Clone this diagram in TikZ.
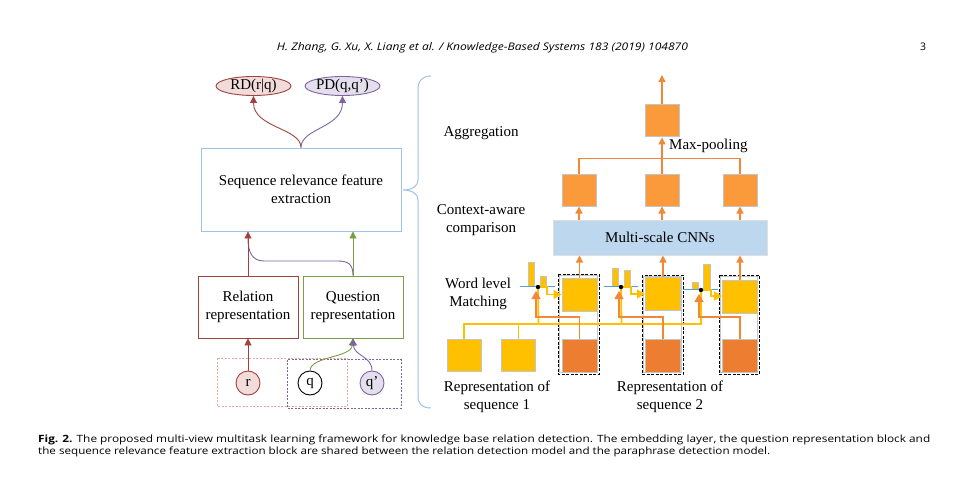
\documentclass[tikz,border=0pt]{standalone}
\usepackage{graphicx}
\usepackage{fontspec}
\setmainfont{Liberation Serif}
\newfontfamily\capfont{Open Sans}
\usetikzlibrary{arrows.meta,shapes.geometric}
\definecolor{dred}{HTML}{A0423D}
\definecolor{lred}{HTML}{F2DCDB}
\definecolor{purp}{HTML}{8064A2}
\definecolor{lpurp}{HTML}{E4DFEC}
\definecolor{grn}{HTML}{77A043}
\definecolor{lblue}{HTML}{9DC3E6}
\definecolor{cnnblue}{HTML}{BDD7EE}
\definecolor{orsq}{HTML}{FB9A3A}
\definecolor{orarr}{HTML}{F08838}
\definecolor{dorsq}{HTML}{ED7D31}
\definecolor{ylw}{HTML}{FFC000}
\definecolor{bline}{HTML}{5B9BD5}
\definecolor{sqgray}{HTML}{C4C4C4}
\definecolor{pinkdash}{HTML}{E8A9A4}
\begin{document}
\begin{tikzpicture}[x=1pt,y=-1pt,
  lab/.style={font=\fontsize{15}{18}\selectfont, align=center, inner sep=0pt},
  tri/.style={-{Triangle[width=7pt,length=7pt]}},
  bigtri/.style={-{Triangle[width=9pt,length=8pt]}},
  lbox/.style={draw, line width=0.9pt, minimum width=100pt, minimum height=62pt, inner sep=0pt, lab},
  ell/.style={ellipse, draw, line width=0.9pt, inner sep=0pt, text height=10pt, text depth=3pt, minimum width=75pt, minimum height=19pt, lab},
  circ/.style={circle, draw, line width=0.9pt, inner sep=0pt, minimum size=24pt, lab},
  sq/.style={draw=sqgray, line width=1pt, inner sep=0pt, minimum width=34pt, minimum height=32pt},
  osq/.style={sq, fill=orsq},
  ysq/.style={sq, fill=ylw},
  dsq/.style={sq, fill=dorsq},
  oline/.style={orarr, line width=1.4pt},
  yline/.style={ylw, line width=1.8pt},
  bar/.style={draw=sqgray, fill=ylw, line width=0.8pt},
  blue line/.style={bline, line width=1.4pt},
  dbox/.style={draw=black, line width=0.9pt, dash pattern=on 3pt off 1.5pt},
  dboxin/.style={draw=gray!45, line width=0.9pt},
  hdr/.style={font=\capfont\fontsize{10.5}{12}\selectfont\itshape, inner sep=0pt},
  captext/.style={font=\capfont\fontsize{10}{12}\selectfont, inner sep=0pt}
]
\useasboundingbox (0,0) rectangle (958,484);

% ---------- header ----------
\node[hdr, anchor=base] (hd) at (482.5,50.5) {\resizebox{411pt}{\height}{H. Zhang, G. Xu, X. Liang et al. / Knowledge-Based Systems 183 (2019) 104870}};
\node[hdr, font=\capfont\fontsize{10.5}{12}\selectfont, anchor=base] (pg) at (923,50.5) {3};

% ---------- left part ----------
\node[ell, draw=dred, fill=lred] (rd) at (253.5,86) {RD(r|q)};
\node[ell, draw=purp, fill=lpurp] (pd) at (342.5,86) {PD(q,q')};
\node[lbox, draw=lblue, minimum width=200pt, minimum height=83pt] (seq) at (301,189.5) {Sequence relevance feature\\extraction};
\node[lbox, draw=dred] (rel) at (248,307) {Relation\\representation};
\node[lbox, draw=grn] (que) at (353,307) {Question\\representation};

\draw[pinkdash, line width=0.9pt, dash pattern=on 2pt off 1.5pt] (217,358) rectangle (347,406);
\draw[purp, line width=0.9pt, dash pattern=on 2pt off 1.5pt] (287,359.5) rectangle (401,408);

\node[circ, draw=dred, fill=lred] (r) at (248,383) {r};
\node[circ, draw=black, fill=white] (q) at (310,383) {q};
\node[circ, draw=purp, fill=lpurp] (qp) at (372,383) {q'};

% connectors left
\draw[dred, line width=0.9pt, tri] (seq.north) .. controls (301,128) and (253.5,128) .. (rd.south);
\draw[purp, line width=0.9pt, tri] (seq.north) .. controls (301,128) and (342.5,128) .. (pd.south);
\draw[purp, line width=0.9pt] (que.north) .. controls (353,265) and (349,261) .. (338,261) -- (264,261) .. controls (252,261) and (248,252) .. (248,238);
\draw[dred, line width=0.9pt, tri] (rel.north) -- (rel.north |- seq.south);
\draw[grn, line width=0.9pt, tri] (que.north) -- (que.north |- seq.south);
\draw[dred, line width=0.9pt, tri] (r.north) -- (rel.south);
\draw[grn, line width=0.9pt, tri] (q.north) .. controls (311,356) and (351,358) .. (que.south);
\draw[purp, line width=0.9pt, tri] (qp.north) .. controls (372,356) and (354,356) .. (que.south);

% brace
\draw[lblue, line width=1pt] (431,76) .. controls (422,76) and (418,81) .. (418,90) -- (418,180) .. controls (418,186) and (412,190) .. (403,190) .. controls (412,190) and (418,194) .. (418,200) -- (418,396) .. controls (418,404) and (422,408) .. (431,408);

% ---------- right part labels ----------
\node[lab] (agg) at (481,133) {Aggregation};
\node[lab] (ctx) at (481,220) {Context-aware\\comparison};
\node[lab] (wlm) at (478,294) {Word level\\Matching};
\node[lab, anchor=west] (mp) at (669,146) {Max-pooling};
\node[lab] (rs1) at (497,397) {Representation of\\sequence 1};
\node[lab] (rs2) at (670,397) {Representation of\\sequence 2};

% aggregation
\coordinate (outtop) at (662,75);
\node[osq] (top) at (662,121) {};
\node[osq] (m1) at (579,190) {};
\node[osq] (m2) at (662,190) {};
\node[osq] (m3) at (740,190) {};
\node[draw=gray!25, line width=1pt, fill=cnnblue, minimum width=214pt, minimum height=35pt, lab] (cnn) at (660,237.5) {Multi-scale CNNs};

\draw[oline, tri] (top.north) -- (outtop);
\draw[oline] (m1.north) -- ++(0,-15) -| (m3.north);
\draw[oline, tri] (m2.north) -- (top.south);
\draw[oline, tri] (m1.south |- cnn.north) -- (m1.south);
\draw[oline, tri] (m2.south |- cnn.north) -- (m2.south);
\draw[oline, tri] (m3.south |- cnn.north) -- (m3.south);

% dashed column boxes
\draw[dboxin] (559.5,275.5) rectangle (597.5,372.5);
\draw[dbox] (558,274) rectangle (599,374);
\draw[dboxin] (643.5,276.5) rectangle (681.5,372.5);
\draw[dbox] (642,275) rectangle (683,374);
\draw[dboxin] (720.5,276.5) rectangle (757.5,372.5);
\draw[dbox] (719,275) rectangle (759,374);

% squares
\node[ysq, minimum width=35pt, minimum height=33pt] (u1) at (579.5,294.5) {};
\node[ysq, minimum width=35pt, minimum height=33pt] (u2) at (663,294) {};
\node[ysq, minimum width=35pt, minimum height=33pt] (u3) at (740,296.5) {};
\node[dsq, minimum width=35pt, minimum height=33pt] (l1) at (579.5,355.5) {};
\node[dsq, minimum width=35pt, minimum height=33pt] (l2) at (663,355.5) {};
\node[dsq, minimum width=35pt, minimum height=33pt] (l3) at (740,355.5) {};
\node[ysq] (s1) at (464,355) {};
\node[ysq] (s2) at (518.5,355) {};

\draw[oline, tri] (u1.north) -- (u1.north |- cnn.south);
\draw[oline, tri] (u2.north) -- (u2.north |- cnn.south);
\draw[oline, tri] (u3.north) -- (u3.north |- cnn.south);

% matching points
\coordinate (p1) at (538,287);
\coordinate (p2) at (621,287);
\coordinate (p3) at (701,290);

% yellow bus
\draw[yline] (s1.north) -- (464,324) -- (701,324) -- (p3);
\draw[yline] (s2.north) -- (518.5,324);
\draw[yline] (538.5,324) -- (p1);
\draw[yline] (621.5,324) -- (p2);

% orange feeds
\draw[oline, bigtri] (l1.north) -- (579.5,317) -- (536,317) -- (536,291);
\draw[oline, bigtri] (l2.north) -- (663,317) -- (619,317) -- (619,291);
\draw[oline, bigtri] (l3.north) -- (740,317) -- (699,317) -- (699,294);

% bars and blue lines
\draw[bar] (528,262) rectangle (534.5,286);
\draw[bar] (540.5,276) rectangle (546.5,286);
\draw[blue line] (520,286.5) -- (555,286.5);
\draw[bar] (612,268) rectangle (618,286);
\draw[bar] (624,270) rectangle (630,286);
\draw[blue line] (604,286.5) -- (638,286.5);
\draw[bar] (692.5,282) rectangle (698,289);
\draw[bar] (703.5,264) rectangle (710.5,289);
\draw[blue line] (683,289.5) -- (718,289.5);

% yellow outputs
\draw[ylw, line width=1.6pt, bigtri] (p1) -- (547,287) -- (547,294.5) -- (u1.west |- 0,294.5);
\draw[ylw, line width=1.6pt, bigtri] (p2) -- (631,287) -- (631,294) -- (u2.west |- 0,294);
\draw[ylw, line width=1.6pt, bigtri] (p3) -- (711,290) -- (711,296) -- (u3.west |- 0,296);

\fill[black] (p1) circle (2.2pt);
\fill[black] (p2) circle (2.2pt);
\fill[black] (p3) circle (2.2pt);

% ---------- caption ----------
\node[captext, anchor=base west] (c1) at (38,442) {\resizebox{892pt}{\height}{\textbf{Fig. 2.} The proposed multi-view multitask learning framework for knowledge base relation detection. The embedding layer, the question representation block and}};
\node[captext, anchor=base west] (c2) at (38,454) {\resizebox{732pt}{\height}{the sequence relevance feature extraction block are shared between the relation detection model and the paraphrase detection model.}};
\end{tikzpicture}
\end{document}
